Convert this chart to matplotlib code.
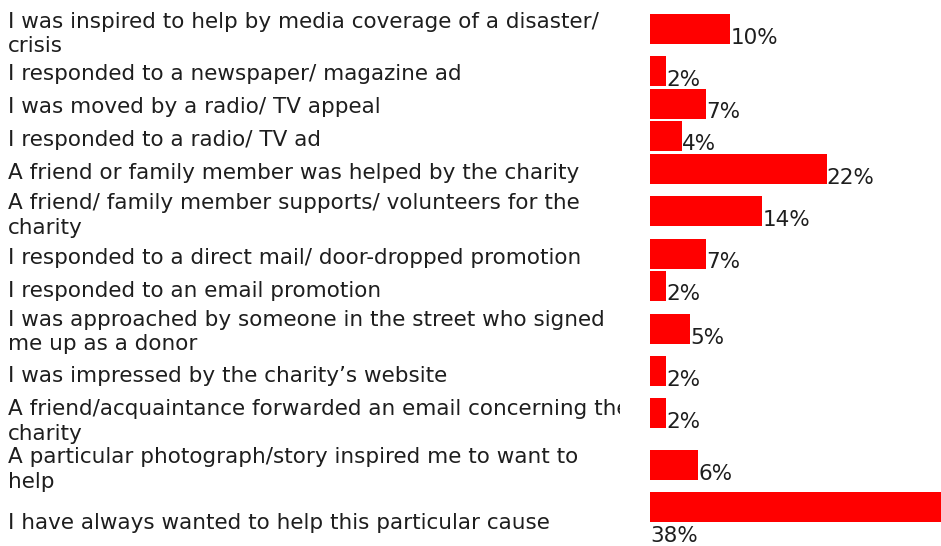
import matplotlib
matplotlib.use("Agg")
import matplotlib.pyplot as plt

# Reasons for first giving to the charity (% of donors)
reasons = [
    "I was inspired to help by media coverage of a disaster/\ncrisis",
    "I responded to a newspaper/ magazine ad",
    "I was moved by a radio/ TV appeal",
    "I responded to a radio/ TV ad",
    "A friend or family member was helped by the charity",
    "A friend/ family member supports/ volunteers for the\ncharity",
    "I responded to a direct mail/ door-dropped promotion",
    "I responded to an email promotion",
    "I was approached by someone in the street who signed\nme up as a donor",
    "I was impressed by the charity\u2019s website",
    "A friend/acquaintance forwarded an email concerning the\ncharity",
    "A particular photograph/story inspired me to want to\nhelp",
    "I have always wanted to help this particular cause",
]
percent = [10, 2, 7, 4, 22, 14, 7, 2, 5, 2, 2, 6, 38]

# layout in pixels (figure is 941 x 546 at dpi 100)
W, H = 941, 546
bar_top = [14, 56, 89, 121, 154, 196, 239, 271, 314, 356, 398, 450, 492]
bar_h = 29.5
label_base = [28, 80, 113, 146, 179, 209, 264, 297, 326, 382, 415, 463, 529]
line_step = 24.5
bar_left = 650
label_clip = 620
px_per_pct = 8.03

fs = 15.5
txt_color = "#1e1e1e"
plt.rcParams["font.family"] = "DejaVu Sans"

fig = plt.figure(figsize=(W / 100, H / 100), dpi=100)
fig.patch.set_facecolor("white")

# left column: category labels, clipped at the column edge
ax_lab = fig.add_axes([0, 0, label_clip / W, 1])
ax_lab.set_xlim(0, label_clip)
ax_lab.set_ylim(H, 0)
ax_lab.axis("off")
for text, y0 in zip(reasons, label_base):
    for k, line in enumerate(text.split("\n")):
        ax_lab.text(8, y0 + k * line_step, line, fontsize=fs, color=txt_color,
                    ha="left", va="baseline", clip_on=True)

# right column: bars
ax = fig.add_axes([bar_left / W, 0, (W - bar_left) / W, 1])
xmax = (W - bar_left) / px_per_pct
ax.set_xlim(0, xmax)
ax.set_ylim(H, 0)
ax.axis("off")
ax.barh([t + bar_h / 2 for t in bar_top], percent, height=bar_h,
        color="#ff0000", edgecolor="none")

for v, t in zip(percent, bar_top):
    bottom = t + bar_h
    if v + 6 < xmax:
        ax.text(v, bottom, f"{v}%", fontsize=fs, color=txt_color,
                ha="left", va="baseline")
    else:
        # no room to the right, label wraps below the bar
        ax.text(0, bottom + 21, f"{v}%", fontsize=fs, color=txt_color,
                ha="left", va="baseline", clip_on=False)

fig.savefig("out.png", dpi=100)
